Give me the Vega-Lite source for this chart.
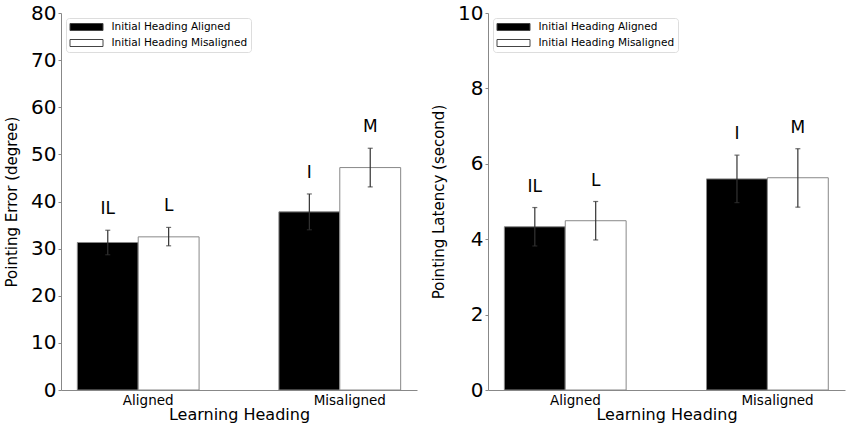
{
  "$schema": "https://vega.github.io/schema/vega-lite/v6.json",
  "padding": {"left": 4, "top": 3, "right": 5, "bottom": 4},
  "config": {
    "font": "DejaVu Sans",
    "view": {"stroke": null},
    "axis": {"grid": false, "domainColor": "#888888", "tickColor": "#888888", "labelColor": "#000000", "titleColor": "#000000", "titleFontWeight": "normal"},
    "legend": {"labelFont": "DejaVu Sans"}
  },
  "datasets": {
    "err": [
      {"heading": "Aligned", "cond": "Initial Heading Aligned", "mean": 31.3, "lo": 28.7, "hi": 33.9, "sig": "IL"},
      {"heading": "Aligned", "cond": "Initial Heading Misaligned", "mean": 32.5, "lo": 30.6, "hi": 34.5, "sig": "L"},
      {"heading": "Misaligned", "cond": "Initial Heading Aligned", "mean": 37.8, "lo": 34.0, "hi": 41.6, "sig": "I"},
      {"heading": "Misaligned", "cond": "Initial Heading Misaligned", "mean": 47.2, "lo": 43.1, "hi": 51.3, "sig": "M"}
    ],
    "lat": [
      {"heading": "Aligned", "cond": "Initial Heading Aligned", "mean": 4.33, "lo": 3.82, "hi": 4.84, "sig": "IL"},
      {"heading": "Aligned", "cond": "Initial Heading Misaligned", "mean": 4.49, "lo": 3.98, "hi": 5.0, "sig": "L"},
      {"heading": "Misaligned", "cond": "Initial Heading Aligned", "mean": 5.6, "lo": 4.97, "hi": 6.23, "sig": "I"},
      {"heading": "Misaligned", "cond": "Initial Heading Misaligned", "mean": 5.63, "lo": 4.85, "hi": 6.4, "sig": "M"}
    ]
  },
  "spacing": 14,
  "hconcat": [
    {
      "width": 356,
      "height": 377,
      "data": {"name": "err"},
      "encoding": {
        "x": {"field": "heading", "type": "nominal", "sort": ["Aligned", "Misaligned"],
          "scale": {"paddingInner": 0.396, "paddingOuter": 0.081},
          "axis": {"title": "Learning Heading", "labelAngle": 0, "ticks": false, "tickSize": 0, "labelPadding": 3, "labelFontSize": 13.5, "labelOffset": 10, "titleFontSize": 16, "titlePadding": 0}},
        "xOffset": {"field": "cond", "type": "nominal", "sort": ["Initial Heading Aligned", "Initial Heading Misaligned"]}
      },
      "layer": [
        {
          "mark": {"type": "bar", "stroke": "#888888", "strokeWidth": 1},
          "encoding": {
            "y": {"field": "mean", "type": "quantitative", "scale": {"domain": [0, 80], "nice": false},
              "axis": {"title": "Pointing Error (degree)", "values": [0, 10, 20, 30, 40, 50, 60, 70, 80], "labelFontSize": 20, "titleFontSize": 15, "tickSize": 3, "labelPadding": 2, "titlePadding": 11}},
            "fill": {"field": "cond", "type": "nominal", "sort": ["Initial Heading Aligned", "Initial Heading Misaligned"],
              "scale": {"range": ["#000000", "#ffffff"]},
              "legend": {"title": null, "orient": "top-left", "offset": 5, "symbolType": "M-1,-0.7H5.6V0.7H-1Z", "symbolSize": 100, "symbolStrokeColor": "#444444", "symbolStrokeWidth": 1, "labelFontSize": 10.5, "labelColor": "#000000", "labelOffset": 31, "padding": 3.5, "rowPadding": 5, "strokeColor": "#dddddd", "cornerRadius": 3, "fillColor": "#ffffff"}}
          }
        },
        {
          "mark": {"type": "rule", "color": "#333333", "strokeWidth": 1.2},
          "encoding": {"y": {"field": "lo", "type": "quantitative"}, "y2": {"field": "hi"}}
        },
        {
          "mark": {"type": "tick", "color": "#333333", "size": 5, "thickness": 1.2},
          "encoding": {"y": {"field": "lo", "type": "quantitative"}}
        },
        {
          "mark": {"type": "tick", "color": "#333333", "size": 5, "thickness": 1.2},
          "encoding": {"y": {"field": "hi", "type": "quantitative"}}
        },
        {
          "mark": {"type": "text", "fontSize": 17, "color": "#000000", "baseline": "alphabetic", "dy": -16},
          "encoding": {"y": {"field": "hi", "type": "quantitative"}, "text": {"field": "sig"}}
        }
      ]
    },
    {
      "width": 357,
      "height": 377,
      "data": {"name": "lat"},
      "encoding": {
        "x": {"field": "heading", "type": "nominal", "sort": ["Aligned", "Misaligned"],
          "scale": {"paddingInner": 0.396, "paddingOuter": 0.081},
          "axis": {"title": "Learning Heading", "labelAngle": 0, "ticks": false, "tickSize": 0, "labelPadding": 3, "labelFontSize": 13.5, "labelOffset": 10, "titleFontSize": 16, "titlePadding": 0}},
        "xOffset": {"field": "cond", "type": "nominal", "sort": ["Initial Heading Aligned", "Initial Heading Misaligned"]}
      },
      "layer": [
        {
          "mark": {"type": "bar", "stroke": "#888888", "strokeWidth": 1},
          "encoding": {
            "y": {"field": "mean", "type": "quantitative", "scale": {"domain": [0, 10], "nice": false},
              "axis": {"title": "Pointing Latency (second)", "values": [0, 2, 4, 6, 8, 10], "labelFontSize": 20, "titleFontSize": 15, "tickSize": 3, "labelPadding": 2, "titlePadding": 11}},
            "fill": {"field": "cond", "type": "nominal", "sort": ["Initial Heading Aligned", "Initial Heading Misaligned"],
              "scale": {"range": ["#000000", "#ffffff"]},
              "legend": {"title": null, "orient": "top-left", "offset": 5, "symbolType": "M-1,-0.7H5.6V0.7H-1Z", "symbolSize": 100, "symbolStrokeColor": "#444444", "symbolStrokeWidth": 1, "labelFontSize": 10.5, "labelColor": "#000000", "labelOffset": 31, "padding": 3.5, "rowPadding": 5, "strokeColor": "#dddddd", "cornerRadius": 3, "fillColor": "#ffffff"}}
          }
        },
        {
          "mark": {"type": "rule", "color": "#333333", "strokeWidth": 1.2},
          "encoding": {"y": {"field": "lo", "type": "quantitative"}, "y2": {"field": "hi"}}
        },
        {
          "mark": {"type": "tick", "color": "#333333", "size": 5, "thickness": 1.2},
          "encoding": {"y": {"field": "lo", "type": "quantitative"}}
        },
        {
          "mark": {"type": "tick", "color": "#333333", "size": 5, "thickness": 1.2},
          "encoding": {"y": {"field": "hi", "type": "quantitative"}}
        },
        {
          "mark": {"type": "text", "fontSize": 17, "color": "#000000", "baseline": "alphabetic", "dy": -16},
          "encoding": {"y": {"field": "hi", "type": "quantitative"}, "text": {"field": "sig"}}
        }
      ]
    }
  ],
  "resolve": {"scale": {"fill": "independent"}}
}
